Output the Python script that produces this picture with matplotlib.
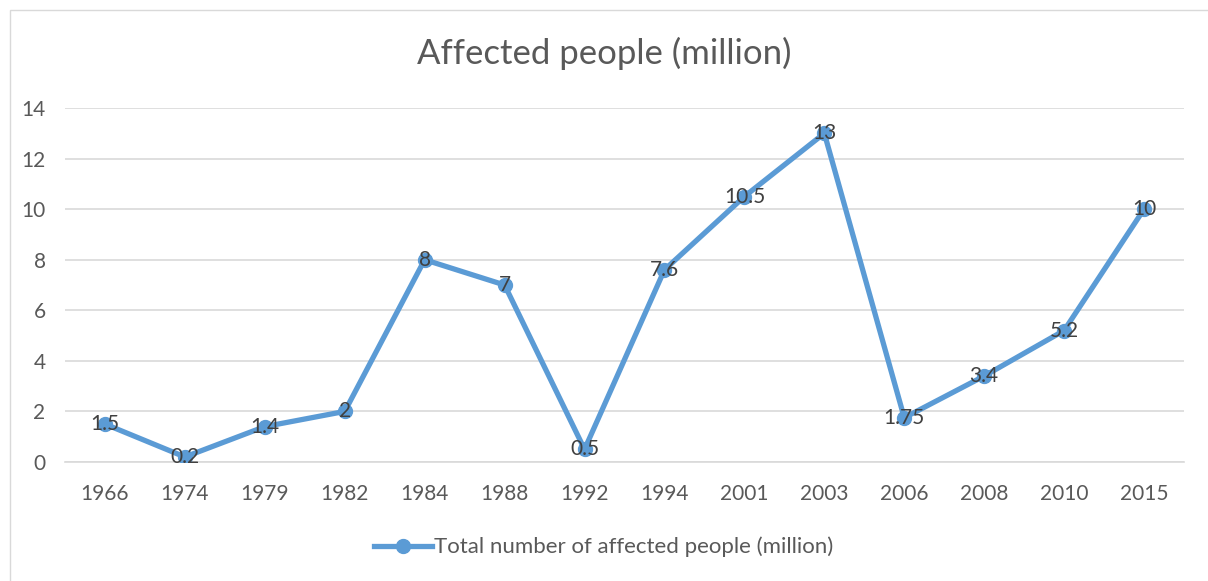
import matplotlib.pyplot as plt
from matplotlib.patches import Rectangle

plt.rcParams['font.family'] = ['Lato', 'DejaVu Sans']

years = ["1966", "1974", "1979", "1982", "1984", "1988", "1992",
         "1994", "2001", "2003", "2006", "2008", "2010", "2015"]
affected = [1.5, 0.2, 1.4, 2, 8, 7, 0.5, 7.6, 10.5, 13, 1.75, 3.4, 5.2, 10]
labels = ["1.5", "0.2", "1.4", "2", "8", "7", "0.5", "7.6", "10.5", "13",
          "1.75", "3.4", "5.2", "10"]

blue = "#5B9BD5"
grey = "#595959"

fig = plt.figure(figsize=(12.08, 5.81), dpi=100)
fig.patches.append(Rectangle((10 / 1208, -0.01), 1.0, 1 - 10 / 581 + 0.01,
                             transform=fig.transFigure, fill=False,
                             edgecolor="#D9D9D9", linewidth=1))

ax = fig.add_axes([65 / 1208, 119 / 581, (1184 - 65) / 1208, (462 - 108) / 581])
x = list(range(len(years)))
ax.plot(x, affected, color=blue, linewidth=3.8, marker="o", markersize=10,
        label="Total number of affected people (million)", zorder=3)

for xi, yi, t in zip(x, affected, labels):
    ax.text(xi, yi, t, ha="center", va="center", fontsize=15, color="#404040", zorder=4)

ax.set_xlim(-0.5, len(years) - 0.5)
ax.set_ylim(0, 14)
ax.set_yticks(range(0, 15, 2))
ax.set_xticks(x)
ax.set_xticklabels(years)
ax.grid(axis="y", color="#D9D9D9", linewidth=1.2)
ax.set_axisbelow(True)
for s in ["top", "right", "left"]:
    ax.spines[s].set_visible(False)
ax.spines["bottom"].set_color("#D9D9D9")
ax.spines["bottom"].set_linewidth(1.2)
ax.tick_params(length=0, labelsize=15, labelcolor=grey, pad=16)
ax.tick_params(axis="y", pad=14)

fig.text(0.5, 1 - 53 / 581, "Affected people (million)", ha="center", va="center",
         fontsize=25, color=grey)

fig.legend(loc="center", bbox_to_anchor=(0.5, (581 - 547) / 581),
           frameon=False, fontsize=16, labelcolor=grey, handlelength=2.6,
           handletextpad=0.1)

fig.savefig("out.png", dpi=100)
